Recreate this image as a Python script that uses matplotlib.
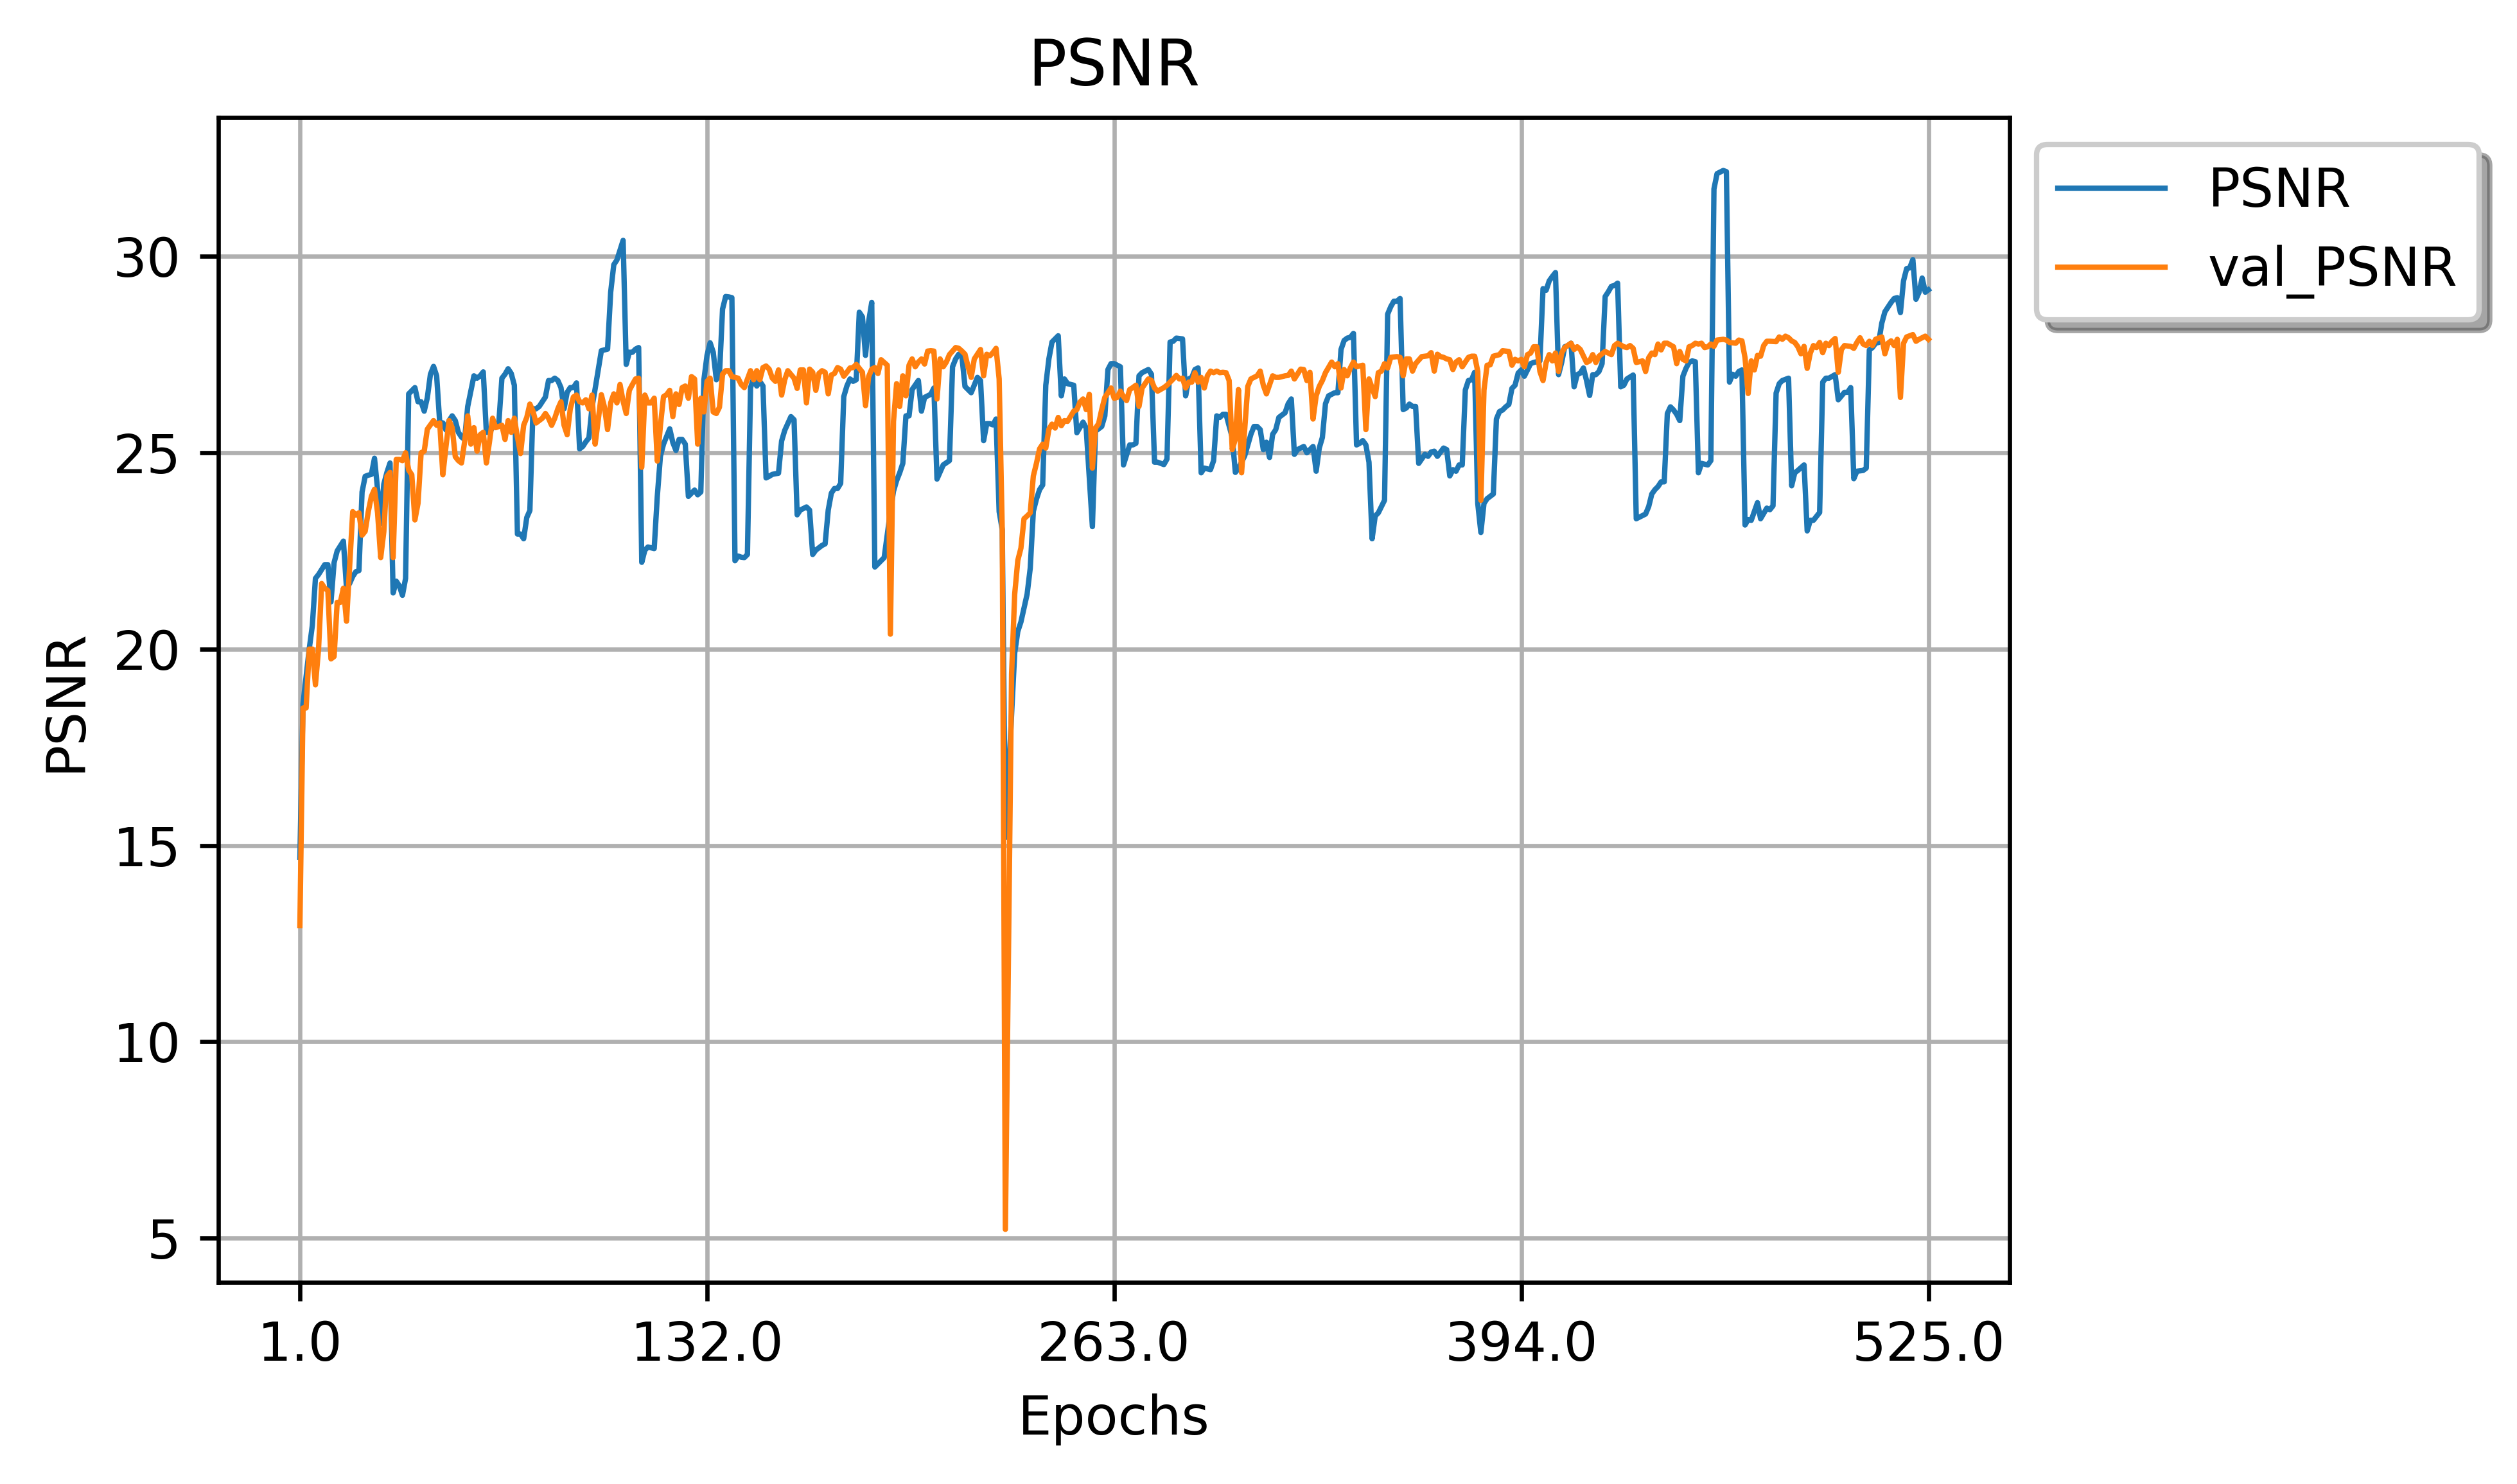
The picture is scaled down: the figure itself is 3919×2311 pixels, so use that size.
import numpy as np
import matplotlib
matplotlib.use('Agg')
import matplotlib.pyplot as plt

# PSNR (train): epoch / value vertices
psnr_epochs = [
    1, 2, 3, 4, 5, 6, 7, 9, 10, 11, 12, 13, 15, 16, 17, 18, 19, 20, 21, 22,
    23, 24, 25, 26, 27, 28, 29, 30, 31, 32, 33, 34, 35, 36, 38, 39, 40, 41, 42, 43,
    44, 45, 46, 47, 48, 49, 50, 51, 52, 53, 54, 55, 57, 58, 59, 60, 61, 62, 63, 64,
    65, 66, 67, 68, 69, 70, 71, 72, 73, 74, 75, 76, 77, 78, 79, 80, 81, 82, 83, 84,
    85, 86, 87, 88, 89, 90, 91, 92, 93, 94, 95, 96, 98, 100, 101, 102, 103, 105, 106, 107,
    108, 109, 110, 111, 112, 113, 115, 116, 117, 118, 120, 121, 122, 123, 124, 125, 126, 127, 128, 129,
    130, 131, 132, 133, 134, 135, 136, 137, 138, 139, 140, 141, 142, 143, 144, 145, 146, 147, 148, 149,
    150, 151, 152, 153, 155, 156, 157, 159, 160, 161, 162, 164, 165, 166, 167, 169, 170, 171, 172, 173,
    174, 175, 176, 177, 178, 179, 180, 181, 182, 183, 184, 185, 186, 187, 189, 191, 192, 193, 194, 195,
    196, 197, 198, 200, 201, 202, 204, 205, 206, 208, 210, 211, 212, 213, 214, 215, 217, 219, 220, 221,
    222, 223, 224, 225, 226, 227, 228, 231, 232, 233, 235, 236, 237, 238, 239, 240, 241, 242, 243, 245,
    246, 247, 248, 250, 251, 253, 254, 256, 257, 259, 260, 261, 262, 263, 265, 266, 268, 269, 270, 271,
    272, 274, 275, 276, 277, 279, 280, 281, 282, 283, 285, 286, 287, 288, 289, 290, 291, 292, 294, 295,
    296, 297, 298, 299, 301, 302, 303, 305, 307, 308, 309, 310, 311, 312, 313, 314, 315, 316, 318, 319,
    320, 321, 322, 324, 325, 327, 328, 329, 330, 331, 332, 334, 335, 336, 337, 338, 339, 340, 341, 342,
    343, 344, 345, 346, 347, 348, 349, 350, 351, 352, 353, 354, 355, 356, 357, 358, 359, 360, 361, 363,
    364, 365, 366, 367, 369, 370, 371, 372, 373, 374, 375, 376, 377, 378, 379, 380, 381, 382, 383, 385,
    386, 387, 388, 389, 390, 391, 392, 393, 394, 395, 397, 398, 400, 401, 402, 403, 404, 405, 406, 407,
    408, 409, 410, 411, 412, 413, 414, 415, 416, 417, 418, 419, 420, 421, 422, 423, 424, 425, 426, 427,
    428, 430, 431, 432, 434, 435, 436, 437, 438, 439, 440, 441, 442, 443, 444, 445, 446, 447, 448, 449,
    450, 451, 452, 454, 455, 456, 457, 459, 460, 461, 462, 463, 464, 465, 466, 467, 468, 470, 471, 473,
    474, 475, 476, 477, 478, 480, 481, 482, 483, 485, 486, 487, 488, 490, 491, 492, 493, 495, 496, 498,
    499, 500, 501, 502, 504, 505, 506, 507, 508, 509, 510, 511, 513, 514, 515, 516, 517, 518, 519, 520,
    521, 522, 523, 524, 525,
]
psnr_values = [
    14.7, 18.6, 19.3, 20.0, 20.6, 21.8, 21.9, 22.15, 22.15, 21.2, 22.2, 22.5, 22.75, 21.55, 21.67, 21.85, 21.97, 22.0, 24.0, 24.4,
    24.43, 24.45, 24.86, 24.07, 23.2, 24.2, 24.5, 24.74, 21.43, 21.73, 21.61, 21.37, 21.8, 26.5, 26.66, 26.3, 26.3, 26.06, 26.4, 27.0,
    27.2, 26.96, 25.76, 25.76, 25.58, 25.82, 25.94, 25.82, 25.52, 25.4, 25.34, 26.18, 26.96, 26.9, 26.96, 27.06, 25.52, 25.52, 25.64, 25.7,
    25.75, 26.9, 27.0, 27.14, 27.02, 26.72, 22.93, 22.93, 22.81, 23.35, 23.53, 26.12, 26.12, 26.18, 26.3, 26.42, 26.84, 26.84, 26.9, 26.84,
    26.66, 26.12, 26.54, 26.66, 26.66, 26.78, 25.1, 25.16, 25.28, 25.38, 26.16, 26.63, 27.6, 27.64, 29.09, 29.79, 29.91, 30.41, 27.25, 27.56,
    27.56, 27.64, 27.68, 22.21, 22.52, 22.6, 22.56, 23.89, 24.91, 25.22, 25.61, 25.26, 25.06, 25.34, 25.34, 25.22, 23.89, 23.97, 24.05, 23.93,
    24.0, 26.86, 27.48, 27.8, 27.56, 26.86, 26.98, 28.66, 28.98, 28.97, 28.95, 22.25, 22.37, 22.34, 22.33, 22.41, 26.66, 26.9, 26.7, 26.82,
    26.7, 24.36, 24.4, 24.45, 24.48, 25.3, 25.57, 25.92, 25.84, 23.42, 23.54, 23.62, 23.54, 22.41, 22.52, 22.64, 22.68, 23.54, 23.97, 24.09,
    24.09, 24.22, 26.43, 26.7, 26.88, 26.82, 26.86, 28.58, 28.46, 27.48, 28.34, 28.83, 22.09, 22.17, 22.33, 23.5, 24.02, 24.29, 24.49, 24.73,
    25.94, 25.94, 26.61, 26.84, 26.06, 26.41, 26.49, 26.65, 24.33, 24.69, 24.8, 27.19, 27.39, 27.51, 27.47, 26.69, 26.53, 26.92, 26.84, 25.31,
    25.74, 25.74, 25.71, 25.86, 23.5, 23.04, 15.2, 19.9, 20.45, 20.69, 21.4, 22.06, 23.51, 23.82, 24.06, 24.18, 26.72, 27.39, 27.82, 27.98,
    26.45, 26.88, 26.76, 26.72, 25.51, 25.78, 25.63, 23.12, 25.55, 25.67, 25.94, 27.12, 27.27, 27.27, 27.19, 24.69, 25.2, 25.2, 25.24, 26.96,
    27.04, 27.12, 27.0, 24.76, 24.76, 24.7, 24.84, 27.82, 27.84, 27.92, 27.9, 26.45, 26.88, 26.92, 27.12, 27.16, 24.49, 24.61, 24.57, 24.8,
    25.94, 25.9, 25.98, 25.98, 25.39, 24.5, 24.6, 24.92, 25.47, 25.67, 25.67, 25.59, 25.08, 25.27, 24.88, 25.47, 25.59, 25.9, 26.02, 26.25,
    26.37, 24.96, 25.08, 25.16, 25.0, 25.16, 24.53, 25.12, 25.39, 26.25, 26.45, 26.53, 26.53, 27.63, 27.86, 27.92, 27.94, 28.04, 25.2, 25.24,
    25.31, 25.2, 24.76, 22.81, 23.39, 23.47, 23.63, 23.79, 28.53, 28.72, 28.86, 28.86, 28.93, 26.1, 26.14, 26.24, 26.18, 26.18, 24.73, 24.96,
    24.91, 25.02, 25.04, 24.91, 25.12, 25.08, 24.41, 24.57, 24.53, 24.69, 24.69, 26.6, 26.84, 26.86, 27.05, 23.71, 22.97, 23.71, 23.83, 23.95,
    25.86, 26.05, 26.09, 26.17, 26.23, 26.64, 26.72, 27.03, 27.11, 26.95, 27.27, 27.3, 27.34, 29.18, 29.14, 29.38, 29.49, 29.59, 26.99, 27.3,
    27.7, 27.73, 27.79, 26.68, 26.99, 27.03, 27.16, 26.84, 26.46, 26.99, 26.99, 27.07, 27.27, 28.98, 29.1, 29.24, 29.26, 29.32, 26.68, 26.72,
    26.88, 26.98, 23.32, 23.36, 23.44, 23.63, 23.95, 24.06, 24.14, 24.26, 24.26, 26.0, 26.17, 26.09, 25.98, 25.82, 26.95, 27.15, 27.3, 27.34,
    27.32, 24.49, 24.73, 24.69, 24.8, 31.72, 32.11, 32.19, 32.16, 26.8, 27.0, 26.95, 27.07, 27.11, 23.16, 23.3, 23.28, 23.73, 23.32, 23.59,
    23.55, 23.65, 26.52, 26.76, 26.84, 26.9, 24.16, 24.49, 24.55, 24.69, 23.01, 23.28, 23.28, 23.48, 26.8, 26.9, 26.9, 26.99, 26.35, 26.54,
    26.54, 26.66, 24.34, 24.53, 24.55, 24.61, 27.62, 27.68, 27.79, 27.81, 28.3, 28.59, 28.83, 28.93, 28.95, 28.57, 29.38, 29.69, 29.71, 29.92,
    28.91, 29.09, 29.45, 29.09, 29.15,
]

# val_PSNR: epoch / value vertices
val_epochs = [
    1, 2, 3, 4, 5, 6, 7, 8, 9, 10, 11, 12, 13, 14, 15, 16, 18, 19, 20, 21,
    22, 23, 24, 25, 26, 27, 28, 29, 30, 31, 32, 33, 34, 35, 36, 37, 38, 39, 40, 41,
    42, 44, 45, 46, 47, 48, 49, 50, 51, 52, 53, 54, 55, 56, 57, 58, 59, 60, 61, 62,
    63, 64, 66, 67, 68, 69, 70, 71, 72, 73, 74, 75, 76, 77, 79, 80, 81, 82, 83, 84,
    85, 86, 87, 88, 89, 90, 91, 92, 93, 94, 95, 96, 97, 98, 99, 100, 101, 102, 103, 104,
    105, 106, 107, 108, 109, 110, 111, 112, 113, 114, 115, 116, 117, 118, 119, 120, 121, 122, 123, 124,
    125, 126, 127, 128, 129, 130, 131, 132, 133, 134, 135, 136, 137, 138, 139, 140, 142, 143, 144, 146,
    147, 148, 149, 150, 151, 152, 153, 154, 155, 156, 157, 158, 160, 161, 162, 163, 164, 165, 166, 167,
    168, 169, 170, 171, 172, 173, 174, 175, 176, 177, 178, 179, 180, 182, 183, 184, 185, 186, 187, 188,
    189, 190, 191, 192, 193, 194, 195, 196, 197, 198, 199, 200, 201, 202, 203, 204, 205, 206, 207, 208,
    209, 210, 212, 213, 214, 215, 216, 217, 218, 219, 220, 221, 222, 223, 224, 225, 226, 227, 228, 230,
    231, 232, 233, 234, 235, 236, 237, 238, 239, 240, 241, 242, 243, 244, 245, 246, 247, 248, 250, 251,
    252, 253, 254, 255, 256, 257, 258, 259, 260, 262, 263, 264, 265, 266, 267, 268, 269, 270, 271, 272,
    274, 275, 276, 277, 279, 280, 282, 283, 284, 285, 286, 287, 288, 289, 290, 291, 292, 293, 294, 295,
    296, 297, 298, 299, 300, 301, 302, 303, 304, 306, 307, 309, 310, 311, 312, 314, 315, 316, 318, 319,
    320, 321, 323, 324, 325, 326, 327, 328, 329, 330, 331, 333, 334, 335, 336, 337, 338, 339, 340, 341,
    343, 344, 345, 346, 347, 348, 349, 350, 351, 352, 354, 355, 356, 357, 358, 359, 360, 362, 364, 365,
    366, 367, 368, 369, 370, 371, 372, 373, 374, 375, 377, 378, 379, 380, 381, 382, 383, 384, 385, 386,
    387, 388, 390, 391, 392, 393, 394, 395, 396, 397, 398, 399, 400, 401, 402, 403, 404, 405, 406, 407,
    408, 410, 411, 412, 413, 415, 416, 417, 418, 419, 421, 423, 424, 425, 427, 428, 429, 430, 431, 433,
    434, 435, 436, 437, 438, 439, 440, 441, 443, 444, 445, 446, 447, 448, 449, 450, 451, 452, 453, 454,
    455, 456, 457, 459, 460, 461, 463, 464, 465, 466, 467, 468, 469, 470, 471, 472, 473, 474, 476, 477,
    478, 479, 480, 481, 482, 483, 484, 485, 486, 487, 488, 489, 490, 491, 492, 493, 494, 495, 496, 497,
    498, 500, 501, 502, 503, 504, 505, 506, 507, 508, 510, 511, 512, 513, 514, 515, 516, 517, 518, 520,
    521, 522, 523, 524, 525,
]
val_values = [
    12.96, 18.5, 18.5, 20.0, 20.0, 19.09, 20.0, 21.67, 21.55, 21.49, 19.75, 19.81, 21.19, 21.19, 21.55, 20.71, 23.5, 23.41, 23.47, 22.9,
    23.0, 23.5, 23.89, 24.07, 23.47, 22.33, 22.99, 24.4, 24.5, 22.33, 24.83, 24.83, 24.8, 25.0, 24.56, 24.44, 23.29, 23.71, 25.0, 25.04,
    25.6, 25.82, 25.7, 25.76, 24.44, 25.16, 25.82, 25.64, 24.9, 24.8, 24.74, 25.28, 25.94, 25.22, 25.64, 25.04, 25.46, 25.52, 24.74, 25.28,
    25.88, 25.64, 25.7, 25.34, 25.82, 25.52, 25.88, 25.4, 24.98, 25.7, 25.9, 26.24, 26.06, 25.76, 25.88, 26.0, 25.88, 25.7, 25.88, 26.12,
    26.3, 25.7, 25.46, 26.12, 26.42, 26.47, 26.3, 26.27, 26.35, 26.12, 26.47, 25.22, 25.84, 26.48, 26.16, 25.59, 26.27, 26.5, 26.27, 26.74,
    26.31, 26.0, 26.59, 26.74, 26.88, 26.9, 24.63, 26.47, 26.27, 26.27, 26.39, 24.79, 25.69, 26.43, 26.48, 26.59, 25.92, 26.5, 26.23, 26.66,
    26.7, 26.39, 26.94, 26.88, 25.22, 26.39, 26.04, 26.82, 26.9, 26.04, 26.0, 26.16, 27.0, 27.09, 27.09, 26.94, 26.9, 26.74, 26.66, 27.09,
    26.86, 27.09, 26.86, 27.17, 27.21, 27.13, 26.9, 26.82, 27.11, 26.47, 26.86, 27.09, 26.9, 26.64, 27.11, 27.11, 26.27, 27.13, 27.05, 26.59,
    27.02, 27.09, 27.05, 26.5, 26.98, 27.02, 27.17, 27.13, 26.95, 27.05, 27.16, 27.17, 27.25, 27.05, 26.2, 26.94, 27.13, 27.17, 27.02, 27.37,
    27.3, 27.23, 20.38, 25.8, 26.76, 26.18, 26.96, 26.45, 27.23, 27.39, 27.19, 27.31, 27.39, 27.26, 27.59, 27.6, 27.59, 26.37, 27.39, 27.19,
    27.31, 27.5, 27.68, 27.66, 27.59, 27.51, 27.19, 26.92, 27.39, 27.51, 27.63, 26.96, 27.51, 27.47, 27.55, 27.66, 26.88, 23.0, 5.22, 19.37,
    21.4, 22.26, 22.57, 23.32, 23.39, 23.47, 24.41, 24.73, 25.1, 25.22, 25.12, 25.6, 25.73, 25.63, 25.9, 25.69, 25.82, 25.8, 26.06, 26.1,
    26.29, 26.37, 26.1, 26.49, 24.61, 25.63, 25.74, 26.1, 26.41, 26.65, 26.39, 26.41, 26.57, 26.43, 26.33, 26.61, 26.66, 26.72, 26.18, 26.65,
    26.88, 26.84, 26.65, 26.57, 26.66, 26.72, 26.88, 26.97, 26.88, 26.9, 26.65, 26.8, 26.8, 27.04, 26.8, 26.92, 26.65, 26.96, 27.08, 27.04,
    27.08, 27.04, 27.05, 27.04, 26.84, 25.08, 25.35, 26.61, 24.49, 26.69, 26.88, 26.96, 27.08, 26.72, 26.5, 26.96, 26.92, 26.92, 26.96, 26.97,
    27.08, 26.88, 27.13, 27.12, 26.84, 27.05, 25.86, 26.45, 26.69, 26.84, 27.04, 27.31, 27.19, 27.27, 26.65, 27.12, 26.96, 27.16, 27.31, 27.19,
    27.23, 25.59, 26.88, 26.65, 26.43, 27.04, 27.08, 27.27, 27.16, 27.43, 27.45, 27.43, 26.96, 27.39, 27.39, 27.08, 27.27, 27.45, 27.47, 27.55,
    27.08, 27.51, 27.45, 27.43, 27.39, 27.37, 27.12, 27.31, 27.37, 27.19, 27.43, 27.46, 27.46, 27.07, 23.79, 26.6, 27.23, 27.24, 27.46, 27.48,
    27.5, 27.6, 27.58, 27.23, 27.38, 27.34, 27.38, 27.19, 27.5, 27.54, 27.7, 27.7, 27.07, 26.84, 27.3, 27.5, 27.34, 27.54, 27.07, 27.54,
    27.68, 27.79, 27.63, 27.7, 27.63, 27.3, 27.34, 27.5, 27.3, 27.46, 27.58, 27.5, 27.73, 27.79, 27.7, 27.68, 27.73, 27.66, 27.3, 27.34,
    27.07, 27.42, 27.54, 27.5, 27.77, 27.62, 27.79, 27.79, 27.7, 27.27, 27.58, 27.38, 27.34, 27.7, 27.73, 27.79, 27.77, 27.79, 27.68, 27.7,
    27.77, 27.71, 27.87, 27.89, 27.87, 27.81, 27.79, 27.87, 27.85, 27.42, 26.51, 27.34, 27.11, 27.48, 27.46, 27.73, 27.84, 27.84, 27.83, 27.95,
    27.89, 27.97, 27.93, 27.85, 27.81, 27.7, 27.52, 27.71, 27.15, 27.54, 27.73, 27.68, 27.81, 27.55, 27.79, 27.73, 27.84, 27.91, 27.05, 27.63,
    27.73, 27.71, 27.66, 27.81, 27.93, 27.77, 27.73, 27.84, 27.73, 27.89, 27.95, 27.52, 27.79, 27.85, 27.73, 27.89, 26.41, 27.79, 27.95, 28.01,
    27.84, 27.89, 27.93, 27.97, 27.89,
]

x_ticks = np.linspace(1, 525, 5)
x_tick_labels = [f'{t:.1f}' for t in x_ticks]

fig = plt.figure(figsize=(3919 / 600, 2311 / 600), dpi=600)
ax = fig.add_axes([0.0868, 0.1359, 0.7117, 0.7849])

ax.plot(psnr_epochs, psnr_values, color='C0', linewidth=1.0, label='PSNR')
ax.plot(val_epochs, val_values, color='C1', linewidth=1.0, label='val_PSNR')

ax.set_xticks(x_ticks)
ax.set_xticklabels(x_tick_labels)
ax.set_title('PSNR')
ax.set_xlabel('Epochs')
ax.set_ylabel('PSNR')
ax.grid(True)
ax.legend(loc='upper left', bbox_to_anchor=(1, 1), shadow=True)

fig.savefig('out.png', dpi=600)
